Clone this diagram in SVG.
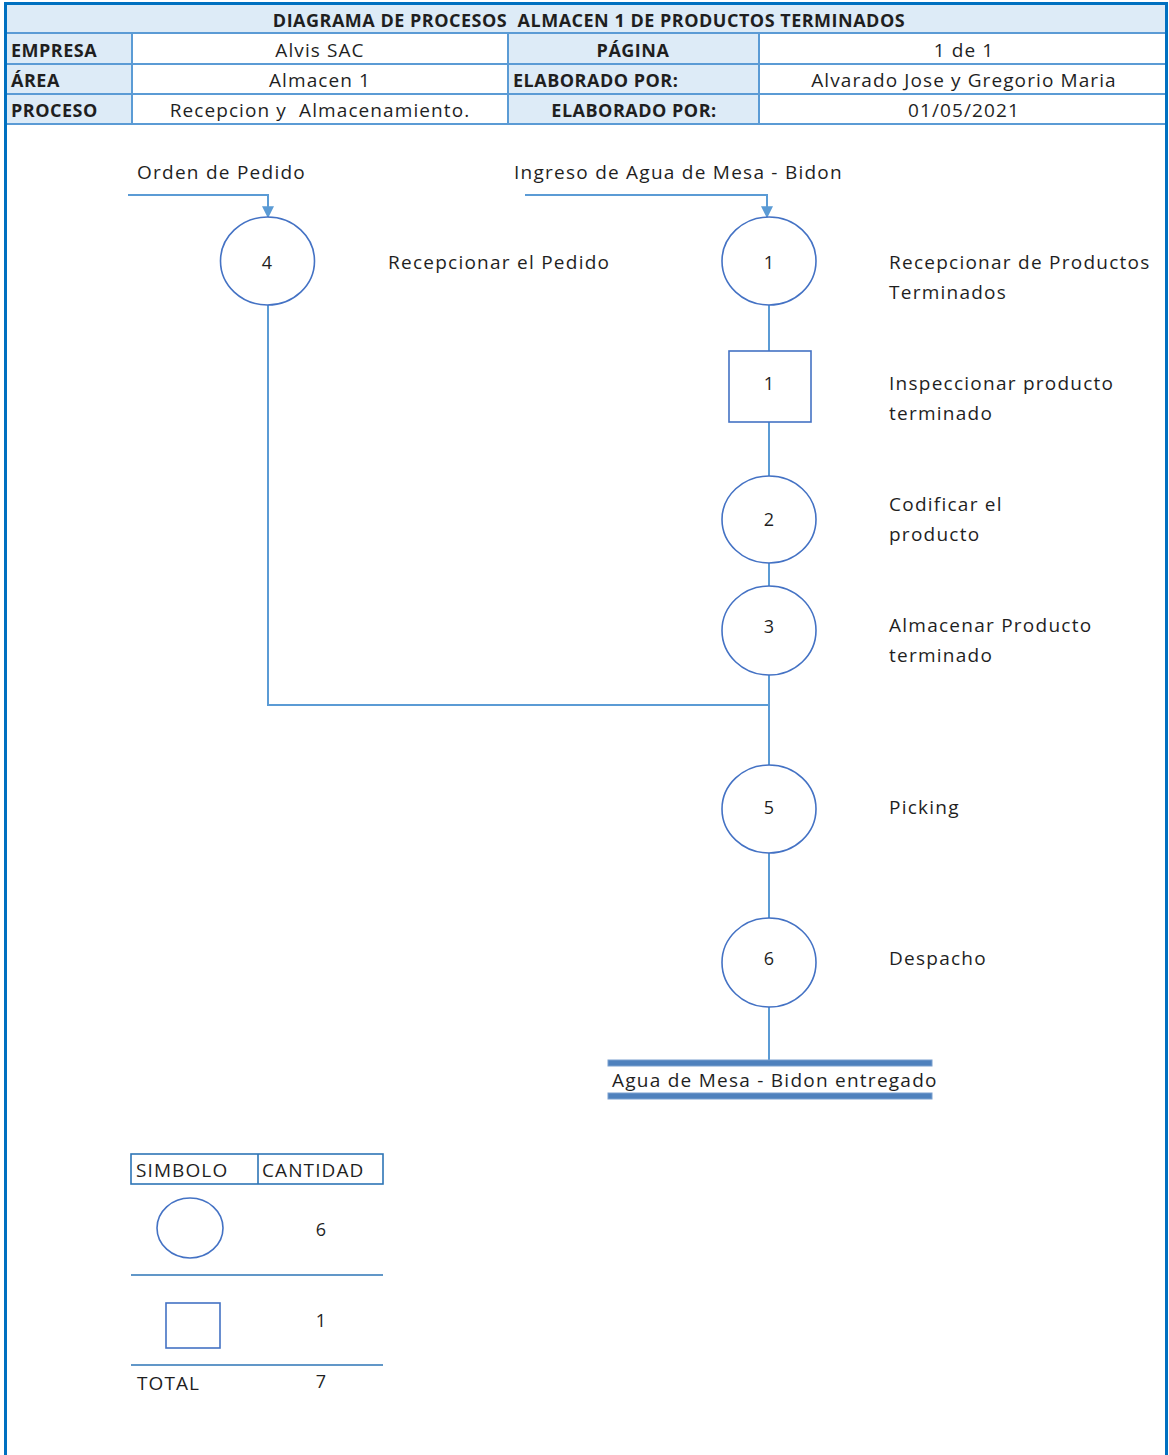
<svg xmlns="http://www.w3.org/2000/svg" width="1169" height="1455" viewBox="0 0 1169 1455">
  <defs>
    <style>
      text { font-family: "Open Sans", "Noto Sans", "Liberation Sans", sans-serif; fill: #1f1f1f; white-space: pre; }
      .hd { font-size: 18px; font-weight: bold; letter-spacing: 0.5px; }
      .hv { font-size: 19px; letter-spacing: 1.1px; }
      .lb { font-size: 19px; letter-spacing: 1.25px; }
      .num { font-size: 18px; text-anchor: middle; }
      .mid { text-anchor: middle; }
      .cell-h { fill: #ddebf7; }
      .grid { stroke: #5b9bd5; stroke-width: 2; fill: none; }
      .node { fill: #ffffff; stroke: #4472c4; stroke-width: 1.6; }
      .flow { stroke: #5b9bd5; stroke-width: 2; fill: none; }
      .bar { fill: #4f81bd; stroke: #7ba0cf; stroke-width: 1; }
      .leg { stroke: #2e75b6; stroke-width: 1.6; fill: none; }
    </style>
    <marker id="arrow" viewBox="0 0 10 10" refX="9" refY="5" markerWidth="6" markerHeight="6" orient="auto">
      <path d="M0,0 L10,5 L0,10 z" fill="#5b9bd5"/>
    </marker>
  </defs>

  <rect width="1169" height="1455" fill="#ffffff"/>

  <!-- header table -->
  <g id="header">
    <rect class="cell-h" x="6" y="5" width="1160" height="28"/>
    <rect class="cell-h" x="6" y="33" width="126" height="92"/>
    <rect class="cell-h" x="508" y="33" width="251" height="92"/>
    <path class="grid" d="M6,33 H1166 M6,64 H1166 M6,94 H1166 M6,124 H1166 M132,33 V124 M508,33 V124 M759,33 V124"/>
    <text class="hd mid" x="589" y="27">DIAGRAMA DE PROCESOS  ALMACEN 1 DE PRODUCTOS TERMINADOS</text>
    <text class="hd" x="11" y="57">EMPRESA</text>
    <text class="hd" x="11" y="87">ÁREA</text>
    <text class="hd" x="11" y="117">PROCESO</text>
    <text class="hv mid" x="320" y="57">Alvis SAC</text>
    <text class="hv mid" x="320" y="87">Almacen 1</text>
    <text class="hv mid" x="320" y="117">Recepcion y  Almacenamiento.</text>
    <text class="hd mid" x="633" y="57">PÁGINA</text>
    <text class="hd" x="513" y="87">ELABORADO POR:</text>
    <text class="hd mid" x="634" y="117">ELABORADO POR:</text>
    <text class="hv mid" x="964" y="57">1 de 1</text>
    <text class="hv mid" x="964" y="87">Alvarado Jose y Gregorio Maria</text>
    <text class="hv mid" x="964" y="117">01/05/2021</text>
  </g>

  <!-- page frame -->
  <path d="M5.5,1455 V3.5 H1166.5 V1455" fill="none" stroke="#0070c0" stroke-width="3"/>

  <!-- connectors -->
  <g id="connectors">
    <path class="flow" d="M128,195 H268 V217" marker-end="url(#arrow)"/>
    <path class="flow" d="M525,195 H767 V217" marker-end="url(#arrow)"/>
    <path class="flow" d="M268,305 V705 H769"/>
    <path class="flow" d="M769,305 V1060"/>
  </g>

  <!-- process nodes -->
  <g id="node-op4">
    <ellipse class="node" cx="267.5" cy="261" rx="47" ry="44"/>
    <text class="num" x="267" y="269">4</text>
    <text class="lb" x="388" y="269">Recepcionar el Pedido</text>
  </g>
  <g id="node-op1">
    <ellipse class="node" cx="769" cy="261" rx="47" ry="44"/>
    <text class="num" x="769" y="269">1</text>
    <text class="lb" x="889" y="269">Recepcionar de Productos</text>
    <text class="lb" x="889" y="299">Terminados</text>
  </g>
  <g id="node-insp1">
    <rect class="node" x="729" y="351" width="82" height="71"/>
    <text class="num" x="769" y="390">1</text>
    <text class="lb" x="889" y="390">Inspeccionar producto</text>
    <text class="lb" x="889" y="420">terminado</text>
  </g>
  <g id="node-op2">
    <ellipse class="node" cx="769" cy="519.5" rx="47" ry="43.5"/>
    <text class="num" x="769" y="526">2</text>
    <text class="lb" x="889" y="511">Codificar el</text>
    <text class="lb" x="889" y="541">producto</text>
  </g>
  <g id="node-op3">
    <ellipse class="node" cx="769" cy="630.5" rx="47" ry="44.5"/>
    <text class="num" x="769" y="633">3</text>
    <text class="lb" x="889" y="632">Almacenar Producto</text>
    <text class="lb" x="889" y="662">terminado</text>
  </g>
  <g id="node-op5">
    <ellipse class="node" cx="769" cy="809" rx="47" ry="44"/>
    <text class="num" x="769" y="814">5</text>
    <text class="lb" x="889" y="814">Picking</text>
  </g>
  <g id="node-op6">
    <ellipse class="node" cx="769" cy="962.5" rx="47" ry="44.5"/>
    <text class="num" x="769" y="965">6</text>
    <text class="lb" x="889" y="965">Despacho</text>
  </g>

  <!-- inputs -->
  <g id="input-order">
    <text class="lb" x="137" y="179">Orden de Pedido</text>
  </g>
  <g id="input-water">
    <text class="lb" x="514" y="179">Ingreso de Agua de Mesa - Bidon</text>
  </g>

  <!-- final output -->
  <g id="output">
    <rect class="bar" x="608" y="1060" width="324" height="6"/>
    <rect class="bar" x="608" y="1093" width="324" height="6"/>
    <text class="lb" x="612" y="1087">Agua de Mesa - Bidon entregado</text>
  </g>

  <!-- legend -->
  <g id="legend">
    <rect class="leg" x="131" y="1154" width="252" height="30"/>
    <path class="leg" d="M258,1154 V1184 M131,1275 H383 M131,1365 H383"/>
    <text class="hv" x="136" y="1177">SIMBOLO</text>
    <text class="hv" x="262" y="1177">CANTIDAD</text>
    <ellipse class="node" cx="190" cy="1228" rx="33" ry="30"/>
    <text class="num" x="321" y="1236">6</text>
    <rect class="node" x="166" y="1303" width="54" height="45"/>
    <text class="num" x="321" y="1327">1</text>
    <text class="hv" x="137" y="1390">TOTAL</text>
    <text class="num" x="321" y="1388">7</text>
  </g>
</svg>
